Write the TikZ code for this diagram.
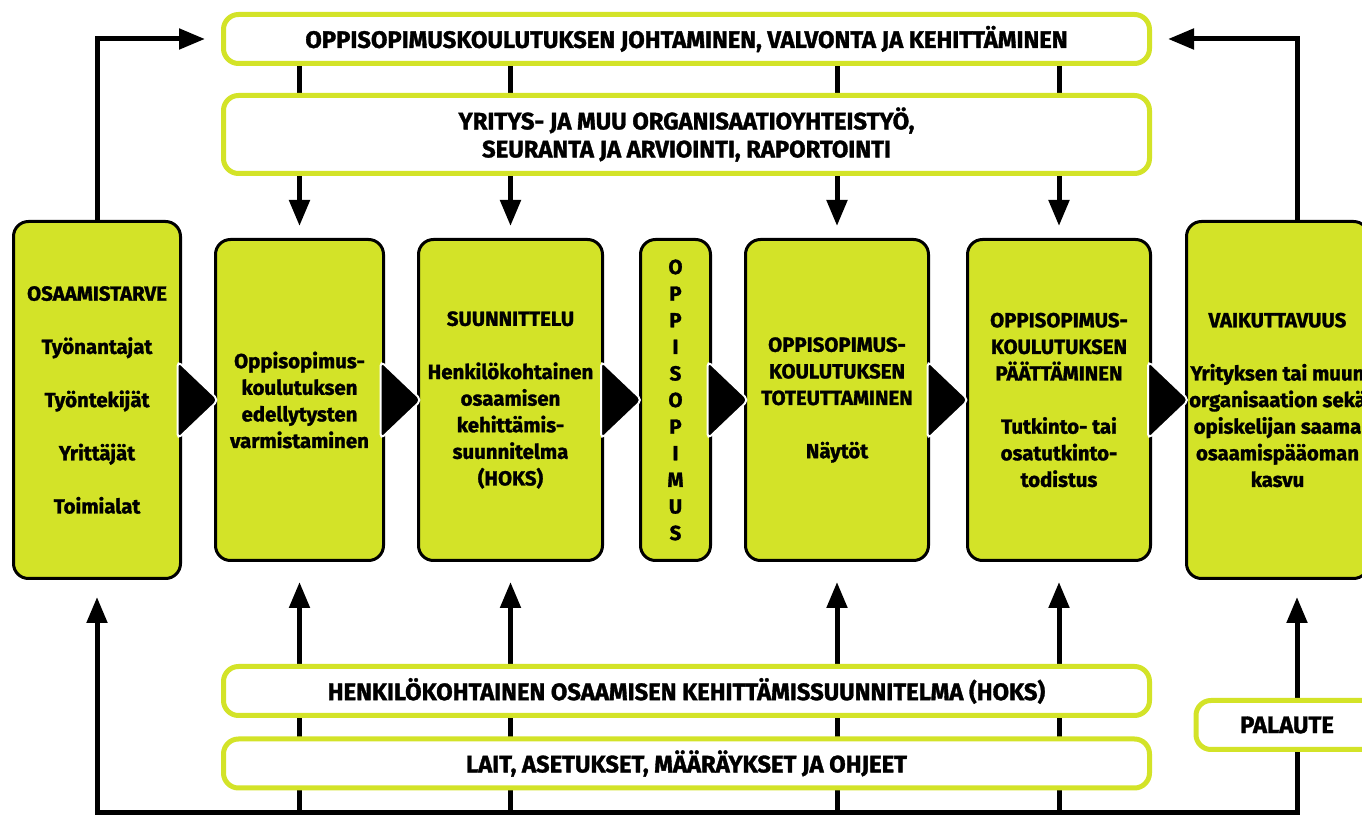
\documentclass[tikz,border=0pt]{standalone}
\usepackage{fontspec}
\setmainfont{Fira Sans}[BoldFeatures={FakeBold=1.4}]
\usetikzlibrary{arrows.meta,calc}
\definecolor{oslime}{RGB}{211,227,40}
\pgfdeclarelayer{bg}
\pgfsetlayers{bg,main}
\tikzset{
  phase/.style={draw=black,line width=1.5pt,fill=oslime,rounded corners=7.5pt,align=center,
    inner sep=0pt,minimum height=160.5pt,font=\bfseries\fontsize{10.2}{13.3}\selectfont},
  band/.style={draw=oslime,line width=2.5pt,fill=white,rounded corners=7.5pt,align=center,
    inner sep=0pt,minimum width=463pt,minimum height=24.5pt,font=\bfseries\fontsize{11.9}{14}\selectfont},
  flow/.style={line width=2.5pt,-{Triangle[width=10pt,length=13pt]}},
  pics/chevron/.style={code={
    \draw[fill=black,draw=white,line width=1pt,rounded corners=2.5pt]
      (-20.5,-39) -- (20.5,0) -- (-20.5,39) -- cycle;}}
}
\begin{document}
\begin{tikzpicture}[x=0.5pt,y=-0.5pt]
\useasboundingbox (0,0) rectangle (1362,817);
\node[band] (lead) at (686.5,39) {OPPISOPIMUSKOULUTUKSEN JOHTAMINEN, VALVONTA JA KEHITTÄMINEN};
\node[band,minimum height=39pt] (coop) at (686.5,134.5) {YRITYS- JA MUU ORGANISAATIOYHTEISTYÖ,\\SEURANTA JA ARVIOINTI, RAPORTOINTI};
\node[band] (hoks) at (686.5,691) {HENKILÖKOHTAINEN OSAAMISEN KEHITTÄMISSUUNNITELMA (HOKS)};
\node[band] (laws) at (686.5,763.5) {LAIT, ASETUKSET, MÄÄRÄYKSET JA OHJEET};
\node[band,minimum width=91pt] (fb) at (1287,725) {PALAUTE};

\node[phase,minimum width=83.5pt,minimum height=178.5pt] (need) at (97,400)
  {OSAAMISTARVE\\[13.3pt]Työnantajat\\[13.3pt]Työntekijät\\[13.3pt]Yrittäjät\\[13.3pt]Toimialat};
\node[phase,minimum width=84pt] (prep) at (299.5,400)
  {Oppisopimus-\\koulutuksen\\edellytysten\\varmistaminen};
\node[phase,minimum width=92pt] (plan) at (510.5,400)
  {SUUNNITTELU\\[13.3pt]Henkilökohtainen\\osaamisen\\kehittämis-\\suunnitelma\\(HOKS)};
\node[phase,minimum width=35pt] (deal) at (675.5,400)
  {O\\P\\P\\I\\S\\O\\P\\I\\M\\U\\S};
\node[phase,minimum width=91.5pt] (impl) at (837,400)
  {OPPISOPIMUS-\\KOULUTUKSEN\\TOTEUTTAMINEN\\[13.3pt]Näytöt};
\node[phase,minimum width=91.5pt] (finish) at (1059,400)
  {OPPISOPIMUS-\\KOULUTUKSEN\\PÄÄTTÄMINEN\\[13.3pt]Tutkinto- tai\\osatutkinto-\\todistus};
\node[phase,minimum width=91pt,minimum height=178.5pt] (impact) at (1277.5,400)
  {VAIKUTTAVUUS\\[13.3pt]Yrityksen tai muun\\organisaation sekä\\opiskelijan saama\\osaamispääoman\\kasvu};

\coordinate (base) at (97,813);
\coordinate (turn) at (1297,813);

\begin{pgfonlayer}{bg}
\foreach \n in {prep,plan,impl,finish} {
  \draw[flow,shorten >=6pt] (lead.south -| \n.north) -- (\n.north);
  \draw[flow,shorten >=10pt] (base -| \n.south) -- (\n.south);
}
\draw[flow,shorten >=8.5pt] (turn) -- (base) -- (need.south);
\draw[flow,shorten >=8.5pt] (base) -- (turn) -- (turn |- impact.south);
\draw[flow,shorten >=8pt] (need.north) |- (lead.west);
\draw[flow,shorten >=8pt] (turn |- impact.north) |- (lead.east);
\end{pgfonlayer}

\foreach \a/\b in {need/prep,prep/plan,plan/deal,deal/impl,impl/finish,finish/impact}
  \pic at ($(\a.east)!0.5!(\b.west)$) {chevron};
\end{tikzpicture}
\end{document}
